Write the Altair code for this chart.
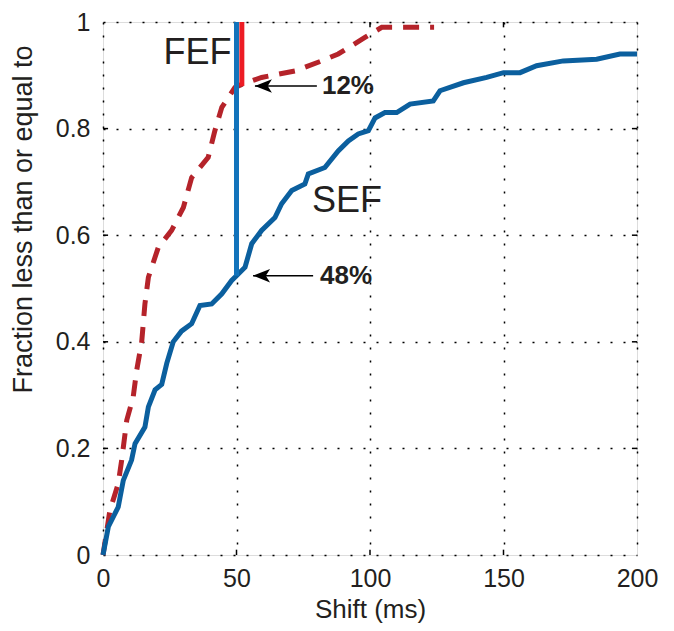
import altair as alt
import pandas as pd

# ---- data ----
sef_x = [0, 2, 5.7, 7.6, 10.7, 12, 15.7, 17, 19.5, 22, 23.9, 26.3, 29.4, 33.2, 36.3, 40.7,
         44.5, 48.2, 50, 53.2, 55.7, 59.4, 64.4, 66.9, 70.7, 75.6, 76.9, 83.1, 88.1, 91.9,
         95.6, 99.4, 101.9, 105.6, 110, 115, 123.7, 126.2, 135, 143.7, 150, 156.2, 162.4,
         172.4, 184.9, 193.6, 200]
sef_y = [0, 0.053, 0.09, 0.14, 0.178, 0.209, 0.24, 0.278, 0.31, 0.32, 0.36, 0.40, 0.42,
         0.434, 0.468, 0.471, 0.49, 0.515, 0.524, 0.54, 0.584, 0.609, 0.633, 0.659, 0.684,
         0.696, 0.715, 0.727, 0.758, 0.777, 0.79, 0.796, 0.82, 0.83, 0.83, 0.846, 0.852,
         0.871, 0.886, 0.896, 0.905, 0.905, 0.918, 0.927, 0.93, 0.94, 0.94]

fef_x = [0, 2.6, 5.7, 7, 8.9, 11.3, 12.6, 14.5, 15.7, 17, 20.7, 25.7, 30.1, 33.2, 39.4,
         41.9, 44.5, 49.4, 52, 59.4, 71.9, 81.9, 88.1, 98.1, 104.4, 124]
fef_y = [0, 0.084, 0.134, 0.178, 0.253, 0.296, 0.346, 0.40, 0.471, 0.521, 0.577, 0.609,
         0.652, 0.708, 0.746, 0.796, 0.84, 0.877, 0.883, 0.896, 0.908, 0.927, 0.94, 0.971,
         0.99, 0.99]

cut_sef = {"x": 50, "y": 0.524, "y2": 1.0}
cut_fef = {"x": 52, "y": 0.88, "y2": 1.0}

arrow_tip_x = [56.9, 56.2]
arrow_tail_x = [80.1, 78.7]
arrow_y = [0.88, 0.524]
pct_labels = ["12%", "48%"]
pct_x = [82, 81.3]

area_labels = ["FEF", "SEF"]
area_x = [35.4, 91.4]
area_y = [0.942, 0.665]

x_ticks = [0, 50, 100, 150, 200]
y_ticks = [0, 0.2, 0.4, 0.6, 0.8, 1.0]
x_inner = [50, 100, 150]
y_inner = [0.2, 0.4, 0.6, 0.8]

FONT = "Liberation Sans"
TXT = "#231f20"

sef = pd.DataFrame({"x": sef_x, "y": sef_y, "i": range(len(sef_x))})
fef = pd.DataFrame({"x": fef_x, "y": fef_y, "i": range(len(fef_x))})
arrows = pd.DataFrame({"tip": arrow_tip_x, "tail": arrow_tail_x, "y": arrow_y,
                       "label": pct_labels, "lx": pct_x})
names = pd.DataFrame({"label": area_labels, "x": area_x, "y": area_y})

xs = alt.Scale(domain=[0, 200], nice=False, zero=False)
ys = alt.Scale(domain=[0, 1], nice=False, zero=False)

xaxis = alt.Axis(values=x_ticks, title="Shift (ms)", grid=True, gridDash=[2, 11],
                 gridColor="black", gridWidth=1.5, gridOpacity=1, domain=False, ticks=False,
                 labelFont=FONT, labelFontSize=25, labelColor=TXT, labelPadding=11,
                 labelFlush=False, labelOverlap=False,
                 titleFont=FONT, titleFontSize=26, titleFontWeight="normal", titleColor=TXT,
                 titleY=62, titleBaseline="alphabetic")
yaxis = alt.Axis(values=y_ticks, format="~g", title="Fraction less than or equal to",
                 grid=True, gridDash=[2, 11], gridColor="black", gridWidth=1.5, gridOpacity=1,
                 domain=False, ticks=False, labelFont=FONT, labelFontSize=25, labelColor=TXT,
                 labelPadding=13, labelFlush=False, labelOverlap=False,
                 titleFont=FONT, titleFontSize=27, titleFontWeight="normal", titleColor=TXT,
                 titleX=-80, titleY=197, titleAngle=270, titleBaseline="middle",
                 titleAlign="center")

fef_line = alt.Chart(fef).mark_line(color="#b5232a", strokeWidth=5, strokeDash=[16, 11]).encode(
    x=alt.X("x:Q", scale=xs, axis=xaxis),
    y=alt.Y("y:Q", scale=ys, axis=yaxis),
    order="i:Q",
)
sef_line = alt.Chart(sef).mark_line(color="#0b5f9e", strokeWidth=5).encode(
    x=alt.X("x:Q", scale=xs), y=alt.Y("y:Q", scale=ys), order="i:Q"
)
v_sef = alt.Chart(pd.DataFrame([cut_sef])).mark_rule(color="#1273bb", strokeWidth=5).encode(
    x="x:Q", y="y:Q", y2="y2:Q"
)
v_fef = alt.Chart(pd.DataFrame([cut_fef])).mark_rule(color="#ed1c24", strokeWidth=5).encode(
    x="x:Q", y="y:Q", y2="y2:Q"
)
arrow_line = alt.Chart(arrows).mark_rule(color="black", strokeWidth=1.6).encode(
    x="tip:Q", x2="tail:Q", y="y:Q"
)
arrow_head = alt.Chart(arrows).mark_point(
    shape="M 0 0 L 2 -0.8 L 1.5 0 L 2 0.8 Z", filled=True, color="black", opacity=1,
    size=289, strokeWidth=0
).encode(x="tip:Q", y="y:Q")
pct_text = alt.Chart(arrows).mark_text(
    font=FONT, fontSize=26, fontWeight="bold", color=TXT, align="left", baseline="middle"
).encode(x="lx:Q", y="y:Q", text="label:N")
name_text = alt.Chart(names).mark_text(
    font=FONT, fontSize=36, color=TXT, align="center", baseline="middle"
).encode(x="x:Q", y="y:Q", text="label:N")

# inward MATLAB-style ticks
tb = pd.DataFrame({"x": x_inner, "y": [0] * 3, "y2": [0.01] * 3})
tt = pd.DataFrame({"x": x_inner, "y": [0.99] * 3, "y2": [1.0] * 3})
tl = pd.DataFrame({"y": y_inner, "x": [0] * 4, "x2": [1.9] * 4})
tr = pd.DataFrame({"y": y_inner, "x": [198.1] * 4, "x2": [200] * 4})
tick_v = alt.layer(
    alt.Chart(tb).mark_rule(color="black", strokeWidth=1.5).encode(x="x:Q", y="y:Q", y2="y2:Q"),
    alt.Chart(tt).mark_rule(color="black", strokeWidth=1.5).encode(x="x:Q", y="y:Q", y2="y2:Q"),
    alt.Chart(tl).mark_rule(color="black", strokeWidth=1.5).encode(y="y:Q", x="x:Q", x2="x2:Q"),
    alt.Chart(tr).mark_rule(color="black", strokeWidth=1.5).encode(y="y:Q", x="x:Q", x2="x2:Q"),
)

chart = alt.layer(
    fef_line, tick_v, sef_line, v_sef, v_fef, arrow_line, arrow_head, pct_text, name_text
).properties(
    width=534, height=533,
    autosize=alt.AutoSizeParams(type="none"),
    padding={"left": 95, "top": 14, "right": 29, "bottom": 68},
).configure_view(
    stroke="#231f20", strokeWidth=3
).configure(background="white")

chart.save("out.html", embed_options={"renderer": "svg", "actions": False})
